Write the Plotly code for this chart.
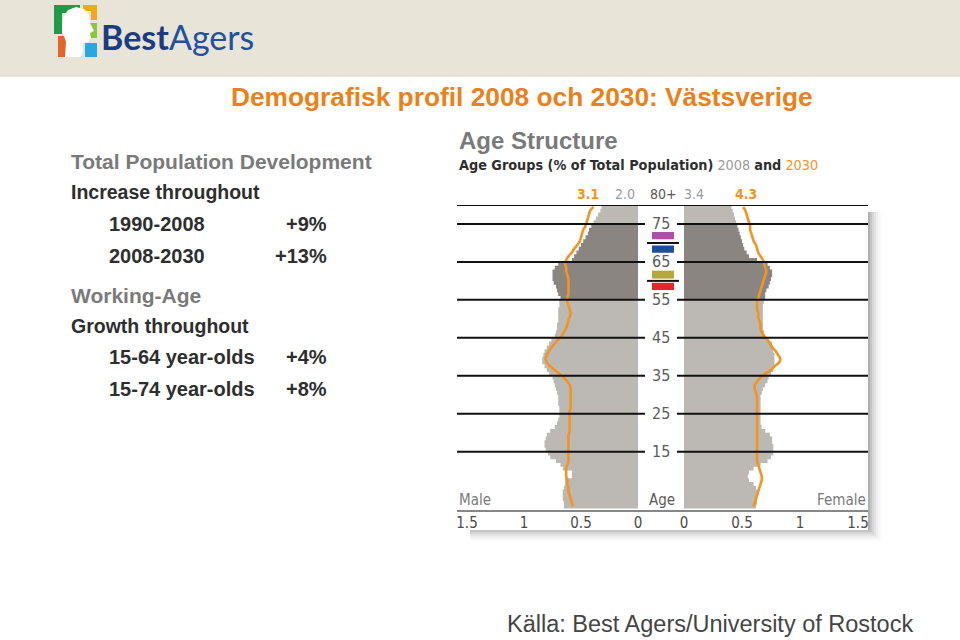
import plotly.graph_objects as go

# ---------------- data ----------------
ages = list(range(0, 80))

male_2008 = [0.65, 0.65, 0.66, 0.66, 0.66, 0.65, 0.64, 0.64, 0.58, 0.58,
             0.66, 0.68, 0.72, 0.77, 0.79, 0.81, 0.82, 0.82, 0.81, 0.80,
             0.77, 0.73, 0.71, 0.70, 0.69, 0.69, 0.69, 0.70, 0.70, 0.70,
             0.71, 0.72, 0.73, 0.74, 0.75, 0.78, 0.80, 0.82, 0.84, 0.84,
             0.83, 0.82, 0.80, 0.78, 0.76, 0.73, 0.72, 0.71, 0.71, 0.70,
             0.70, 0.70, 0.70, 0.69, 0.69, 0.68, 0.70, 0.71, 0.72, 0.74,
             0.75, 0.75, 0.75, 0.73, 0.70, 0.58, 0.56, 0.54, 0.52, 0.50,
             0.48, 0.46, 0.44, 0.43, 0.41, 0.39, 0.37, 0.35, 0.33, 0.32]

female_2008 = [0.62, 0.63, 0.63, 0.63, 0.63, 0.62, 0.60, 0.56, 0.55, 0.56,
               0.60, 0.66, 0.72, 0.75, 0.77, 0.77, 0.77, 0.76, 0.76, 0.74,
               0.70, 0.67, 0.66, 0.66, 0.66, 0.66, 0.66, 0.66, 0.66, 0.66,
               0.67, 0.68, 0.70, 0.72, 0.73, 0.75, 0.77, 0.78, 0.78, 0.78,
               0.78, 0.77, 0.77, 0.76, 0.72, 0.70, 0.69, 0.68, 0.68, 0.68,
               0.68, 0.68, 0.68, 0.68, 0.69, 0.70, 0.70, 0.71, 0.73, 0.74,
               0.75, 0.76, 0.76, 0.74, 0.72, 0.63, 0.56, 0.54, 0.52, 0.51,
               0.50, 0.49, 0.48, 0.47, 0.46, 0.45, 0.44, 0.43, 0.42, 0.41]

male_2030 = [0.57, 0.58, 0.59, 0.60, 0.61, 0.61, 0.62, 0.62, 0.63, 0.63,
             0.63, 0.62, 0.61, 0.61, 0.61, 0.61, 0.61, 0.61, 0.61, 0.61,
             0.60, 0.60, 0.60, 0.60, 0.60, 0.60, 0.59, 0.59, 0.59, 0.59,
             0.59, 0.59, 0.60, 0.62, 0.65, 0.69, 0.73, 0.77, 0.80, 0.81,
             0.80, 0.78, 0.76, 0.73, 0.70, 0.67, 0.65, 0.63, 0.62, 0.61,
             0.60, 0.59, 0.60, 0.61, 0.62, 0.62, 0.61, 0.61, 0.61, 0.61,
             0.61, 0.62, 0.63, 0.63, 0.64, 0.63, 0.61, 0.58, 0.56, 0.53,
             0.51, 0.50, 0.49, 0.48, 0.46, 0.45, 0.44, 0.43, 0.42, 0.39]

female_2030 = [0.60, 0.61, 0.62, 0.63, 0.64, 0.65, 0.66, 0.67, 0.67, 0.66,
               0.65, 0.64, 0.63, 0.63, 0.63, 0.63, 0.63, 0.63, 0.63, 0.63,
               0.63, 0.63, 0.63, 0.63, 0.63, 0.63, 0.63, 0.63, 0.63, 0.63,
               0.62, 0.61, 0.61, 0.63, 0.66, 0.70, 0.75, 0.78, 0.82, 0.83,
               0.81, 0.79, 0.76, 0.74, 0.72, 0.69, 0.67, 0.66, 0.66, 0.65,
               0.64, 0.64, 0.63, 0.63, 0.63, 0.64, 0.65, 0.66, 0.67, 0.68,
               0.69, 0.70, 0.71, 0.70, 0.69, 0.68, 0.66, 0.64, 0.63, 0.62,
               0.60, 0.59, 0.58, 0.57, 0.57, 0.56, 0.55, 0.54, 0.53, 0.51]

# age bands shaded light / dark (2008 bars)
age_bands = [(0, 55, "light"), (55, 75, "dark"), (75, 80, "light")]

age_ticks = [15, 25, 35, 45, 55, 65, 75]
x_ticks = [0, 0.5, 1, 1.5]
x_ticktext = ["0", "0.5", "1", "1.5"]
top_labels = {"m2030": "3.1", "m2008": "2.0", "mid": "80+", "f2008": "3.4", "f2030": "4.3"}

left_texts = [
    ("Total Population Development", "", "head"),
    ("Increase throughout", "", "sub"),
    ("1990-2008", "+9%", "row"),
    ("2008-2030", "+13%", "row"),
    ("Working-Age", "", "head"),
    ("Growth throughout", "", "sub"),
    ("15-64 year-olds", "+4%", "row"),
    ("15-74 year-olds", "+8%", "row"),
]
left_text_y = [161, 192, 224, 256, 295, 326, 357, 389]

# ---------------- styles ----------------
W, H = 960, 640
BAND_COL = {"light": "#bcb8b4", "dark": "#8a8581"}
ORANGE = "#f39322"
TITLE_OR = "#e8821c"
NARROW = "Liberation Sans Narrow, DejaVu Sans Condensed, Arial Narrow, sans-serif"
ARIAL = "Liberation Sans, Arial, sans-serif"


def px(x):
    return x / W


def py(y):
    return 1 - y / H


fig = go.Figure()

# 2008: one-year steps, filled to zero
for vals, xa in ((male_2008, "x"), (female_2008, "x2")):
    for s, e, kind in age_bands:
        xs, ys = [], []
        for a in range(s, e):
            xs += [vals[a], vals[a]]
            ys += [a, a + 1]
        fig.add_trace(go.Scatter(x=xs, y=ys, mode="lines", fill="tozerox",
                                 fillcolor=BAND_COL[kind], line=dict(width=0, color=BAND_COL[kind]),
                                 xaxis=xa, yaxis="y", showlegend=False, hoverinfo="skip"))

yc = [a + 0.5 for a in ages]
for vals, xa in ((male_2030, "x"), (female_2030, "x2")):
    fig.add_trace(go.Scatter(x=vals, y=yc, mode="lines",
                             line=dict(color=ORANGE, width=2.6, shape="spline", smoothing=1),
                             xaxis=xa, yaxis="y", showlegend=False, hoverinfo="skip"))

y_dom = [py(511.6), py(205.0)]
axis_common = dict(showgrid=False, zeroline=False, showline=False, ticks="",
                   tickvals=x_ticks, ticktext=x_ticktext, automargin=False,
                   tickfont=dict(family=NARROW, size=15, color="#4a4a4a"),
                   fixedrange=True)

shapes = []
shapes.append(dict(type="rect", xref="paper", yref="paper", x0=0, x1=1, y0=py(76), y1=1,
                   fillcolor="#e8e4d8", line=dict(width=0), layer="below"))
shapes.append(dict(type="line", xref="paper", yref="paper", x0=0, x1=1, y0=py(76), y1=py(76),
                   line=dict(color="#dcd8cc", width=1), layer="below"))
for i, op in enumerate([0.10, 0.08, 0.06, 0.045, 0.03, 0.02, 0.012]):
    d = 2 * (i + 1)
    shapes.append(dict(type="rect", xref="paper", yref="paper",
                       x0=px(470), x1=px(868 + d), y0=py(528 + d), y1=py(212),
                       fillcolor="black", opacity=op, line=dict(width=0), layer="below"))
shapes.append(dict(type="rect", xref="paper", yref="paper",
                   x0=px(440), x1=px(868), y0=py(530), y1=py(118),
                   fillcolor="white", line=dict(width=0), layer="below"))

LINE = dict(color="#111111", width=2)
shapes.append(dict(type="line", xref="paper", yref="y", x0=px(457), x1=px(868), y0=80, y1=80, line=LINE))
shapes.append(dict(type="line", xref="paper", yref="y", x0=px(457), x1=px(868), y0=-0.8, y1=-0.8, line=LINE))
for a in age_ticks:
    shapes.append(dict(type="line", xref="paper", yref="y", x0=px(457), x1=px(645), y0=a, y1=a, line=LINE))
    shapes.append(dict(type="line", xref="paper", yref="y", x0=px(677), x1=px(868), y0=a, y1=a, line=LINE))
for a in (70, 60):
    shapes.append(dict(type="line", xref="paper", yref="y", x0=px(647), x1=px(679), y0=a, y1=a, line=LINE))
for (a0, a1, col) in [(71.0, 72.9, "#b04fa8"), (67.4, 69.3, "#1f4e9e"),
                      (60.6, 62.7, "#b3a83c"), (57.6, 59.5, "#e2262a")]:
    shapes.append(dict(type="rect", xref="paper", yref="y", x0=px(652), x1=px(674), y0=a0, y1=a1,
                       fillcolor=col, line=dict(width=0)))


def rect_px(x0, y0, x1, y1, col):
    return dict(type="rect", xref="paper", yref="paper", x0=px(x0), x1=px(x1), y0=py(y1), y1=py(y0),
                fillcolor=col, line=dict(width=0))


shapes += [
    rect_px(54, 5, 80, 13, "#1e9a48"),
    rect_px(54, 5, 62, 34, "#1e9a48"),
    rect_px(83, 5, 97, 11, "#f0a91c"),
    rect_px(91, 5, 97, 20, "#f0a91c"),
    rect_px(88, 23, 97, 38, "#8cc63f"),
    rect_px(58, 36, 70, 57, "#e0672a"),
    rect_px(85, 43, 97, 57, "#29a8e0"),
]
head = [(65, 57), (66, 42), (62, 30), (63, 18), (68, 10), (76, 7), (84, 9), (89, 15),
        (90, 23), (94, 31), (90, 33), (91, 38), (88, 42), (83, 43), (83, 51), (81, 57)]
path = "M " + " L ".join(f"{px(x):.5f},{py(y):.5f}" for x, y in head) + " Z"
shapes.append(dict(type="path", xref="paper", yref="paper", path=path,
                   fillcolor="white", line=dict(width=0)))

ann = []


def text(x, y, s, size, color, family=ARIAL, xanchor="left", yref="paper", bold=False):
    ann.append(dict(x=px(x), y=(py(y) if yref == "paper" else y), xref="paper", yref=yref,
                    text=(f"<b>{s}</b>" if bold else s), showarrow=False,
                    xanchor=xanchor, yanchor="middle",
                    font=dict(size=size, color=color, family=family)))


ann.append(dict(x=px(99), y=py(36), xref="paper", yref="paper", showarrow=False,
                xanchor="left", yanchor="middle",
                text="<b><span style='color:#1d3b80'>Best</span></b><span style='color:#22519c'>Agers</span>",
                font=dict(size=34, family="Lato, Open Sans, sans-serif", color="#1d3b80")))
text(522, 97, "Demografisk profil 2008 och 2030: Västsverige", 26.3, TITLE_OR, xanchor="center", bold=True)
text(915, 624, "Källa: Best Agers/University of Rostock", 23.5, "#454545", xanchor="right")

for (lab, val, kind), yy in zip(left_texts, left_text_y):
    if kind == "head":
        text(69, yy, lab, 21, "#7a7a7a", bold=True)
    elif kind == "sub":
        text(69, yy, lab, 19.5, "#2e2e2e", bold=True)
    else:
        text(107, yy, lab, 20, "#2e2e2e", bold=True)
        text(329, yy, val, 20, "#2e2e2e", xanchor="right", bold=True)

text(457, 140, "Age Structure", 24, "#7a7a7a", bold=True)
ann.append(dict(x=px(457), y=py(165), xref="paper", yref="paper", showarrow=False,
                xanchor="left", yanchor="middle",
                text="<b>Age Groups (% of Total Population)</b> <span style='color:#9a9a9a'>2008</span> <b>and</b> "
                     "<span style='color:#f39322'>2030</span>",
                font=dict(size=14.3, family=NARROW, color="#2e2e2e")))

text(588, 194, top_labels["m2030"], 14, ORANGE, family=NARROW, xanchor="center", bold=True)
text(625, 194, top_labels["m2008"], 14, "#9a9a9a", family=NARROW, xanchor="center")
text(663, 194, top_labels["mid"], 14, "#555555", family=NARROW, xanchor="center")
text(694, 194, top_labels["f2008"], 14, "#9a9a9a", family=NARROW, xanchor="center")
text(746, 194, top_labels["f2030"], 14, ORANGE, family=NARROW, xanchor="center", bold=True)

for a in age_ticks:
    text(661, a, str(a), 16, "#5a5a5a", family=NARROW, xanchor="center", yref="y")

text(457, 500, "Male", 15, "#7a7a7a", family=NARROW)
text(662, 500, "Age", 15, "#5a5a5a", family=NARROW, xanchor="center")
text(868, 500, "Female", 15, "#7a7a7a", family=NARROW, xanchor="right")

fig.update_layout(
    template="none",
    width=W, height=H,
    autosize=False,
    margin=dict(l=0, r=0, t=0, b=0, pad=0, autoexpand=False),
    paper_bgcolor="white",
    plot_bgcolor="rgba(0,0,0,0)",
    showlegend=False,
    xaxis=dict(domain=[px(467), px(638)], range=[1.5, 0], anchor="y", **axis_common),
    xaxis2=dict(domain=[px(684), px(858)], range=[0, 1.5], anchor="y", **axis_common),
    yaxis=dict(domain=y_dom, range=[-0.8, 80], visible=False, fixedrange=True, automargin=False),
    shapes=shapes,
    annotations=ann,
)

fig.write_html("out.html", config={"responsive": False, "displayModeBar": False})
